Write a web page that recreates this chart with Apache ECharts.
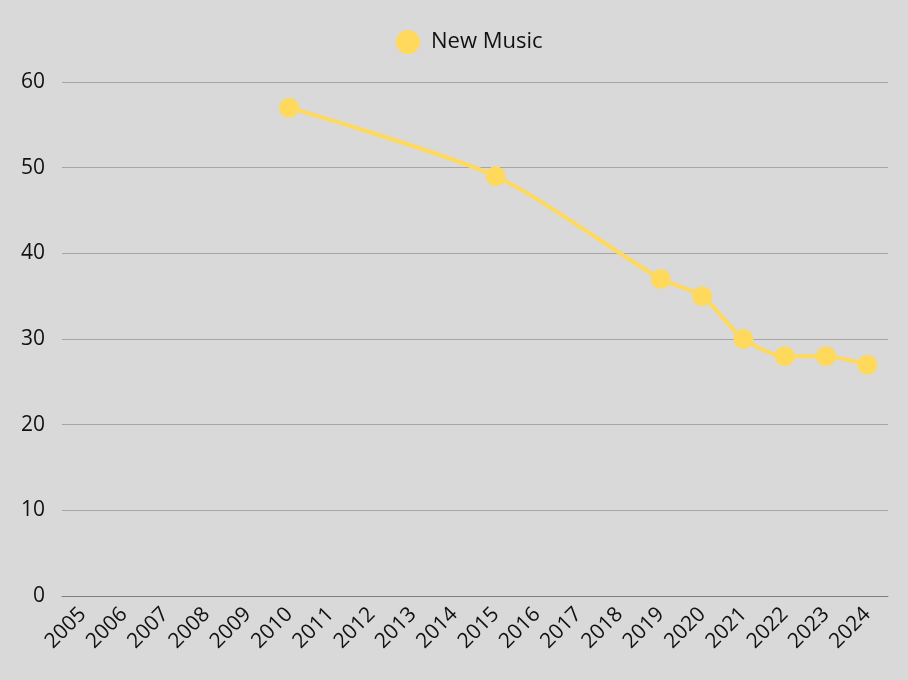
<!DOCTYPE html>
<html>
<head>
<meta charset="utf-8">
<script src="https://cdn.jsdelivr.net/npm/echarts@6/dist/echarts.min.js"></script>
<style>
html,body{margin:0;padding:0;background:#d9d9d9;}
#chart{width:908px;height:680px;}
</style>
</head>
<body>
<div id="chart"></div>
<script>
const categories = ['2005','2006','2007','2008','2009','2010','2011','2012','2013','2014','2015','2016','2017','2018','2019','2020','2021','2022','2023','2024'];
const newMusic = [null,null,null,null,null,57,null,null,null,null,49,null,null,null,37,35,30,28,28,27];
const yTicks = {min:0, max:60, interval:10};

const chart = echarts.init(document.getElementById('chart'));
const font = "'Open Sans', 'DejaVu Sans', sans-serif";
chart.setOption({
  backgroundColor:'#d9d9d9',
  animation:false,
  legend:{
    top:25, left:391,
    icon:'circle', itemWidth:24, itemHeight:24, itemGap:10,
    textStyle:{fontSize:22, color:'#111', fontFamily:font, padding:[0,0,0,6]},
    data:['New Music']
  },
  grid:{left:62, right:20, top:82, bottom:84, containLabel:false},
  xAxis:{
    type:'category', data:categories, boundaryGap:true,
    axisLine:{lineStyle:{color:'#7f7f7f', width:1}},
    axisTick:{show:false},
    axisLabel:{rotate:45, fontSize:21, color:'#111', fontFamily:font, margin:15, interval:0}
  },
  yAxis:{
    type:'value', min:yTicks.min, max:yTicks.max, interval:yTicks.interval,
    axisLine:{show:false}, axisTick:{show:false},
    splitLine:{lineStyle:{color:'#a6a6a6', width:1}},
    axisLabel:{fontSize:21, color:'#111', fontFamily:font, margin:17}
  },
  series:[{
    name:'New Music', type:'line', data:newMusic, connectNulls:true,
    smooth:0.25,
    symbol:'circle', symbolSize:20,
    itemStyle:{color:'#ffd95c'},
    lineStyle:{color:'#ffd95c', width:4}
  }]
});
</script>
</body>
</html>
